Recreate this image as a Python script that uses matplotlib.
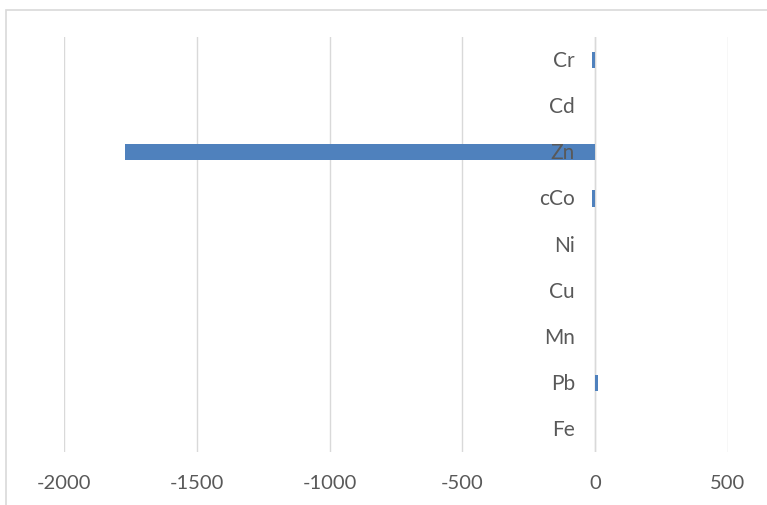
import matplotlib
matplotlib.use("Agg")
import matplotlib.pyplot as plt
from matplotlib.patches import Rectangle

categories = ["Fe", "Pb", "Mn", "Cu", "Ni", "cCo", "Zn", "Cd", "Cr"]
values = [-2, 9, -2, -2, -2, -12, -1770, -2, -12]
xticks = [-2000, -1500, -1000, -500, 0, 500]

FONT = ["Lato", "DejaVu Sans"]
W, H = 767, 506
fig = plt.figure(figsize=(W / 100, H / 100), dpi=100)
ax = fig.add_axes([64 / W, (H - 453) / H, (728 - 64) / W, (453 - 38) / H])

fig.patches.append(Rectangle((6 / W, -0.1), 1.2, (H - 11) / H + 0.1,
                             transform=fig.transFigure, fill=False,
                             edgecolor="#d9d9d9", linewidth=1.2))

ypos = list(range(len(categories)))
ax.barh(ypos, values, height=0.355, color="#4f81bd", zorder=3)
ax.set_xlim(-2000, 500)
ax.set_ylim(-0.5, len(categories) - 0.5)
ax.set_xticks(xticks)
ax.set_xticklabels([str(t) for t in xticks], fontsize=14.5, color="#595959",
                   family=FONT)
ax.tick_params(axis="x", length=0, pad=16)
ax.set_yticks([])
for s in ax.spines.values():
    s.set_visible(False)
ax.grid(axis="x", color="#d9d9d9", linewidth=1.0, zorder=0)
ax.axvline(0, color="#d9d9d9", linewidth=1.0, zorder=1)

for y, c in zip(ypos, categories):
    ax.annotate(c, xy=(0, y), xytext=(-14.5, 0), textcoords="offset points",
                ha="right", va="center", fontsize=15, color="#595959",
                family=FONT, zorder=4)

fig.savefig("out.png", dpi=100)
